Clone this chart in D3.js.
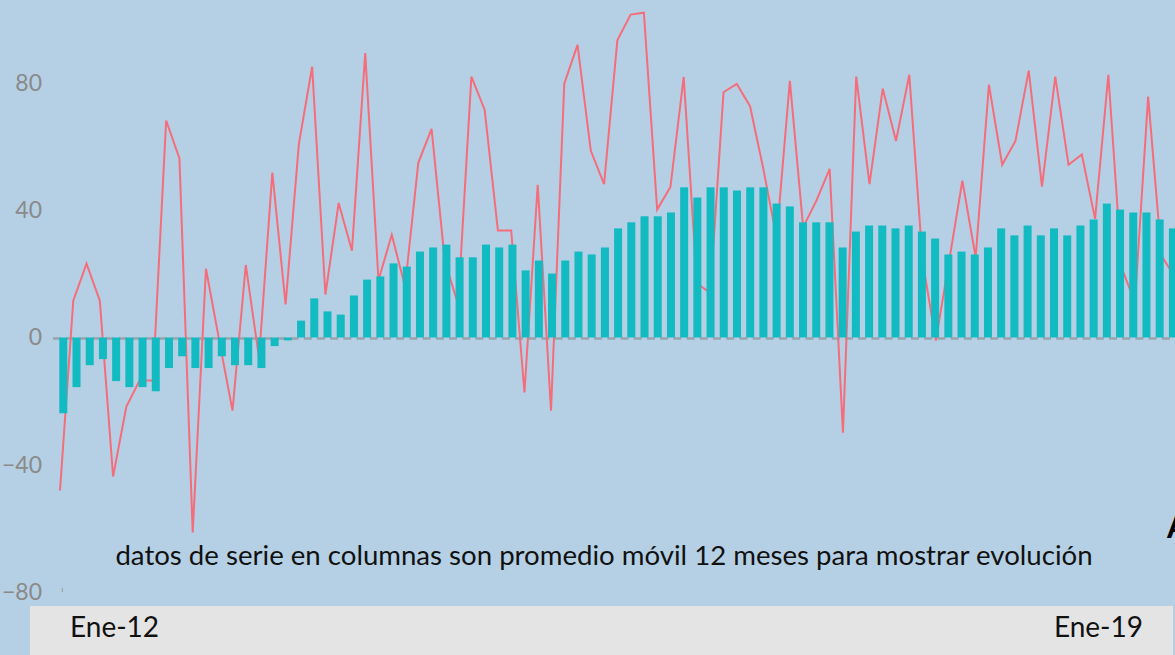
<!DOCTYPE html>
<html>
<head>
<meta charset="utf-8">
<script src="https://cdn.jsdelivr.net/npm/d3@7"></script>
<style>
  body { margin: 0; background: #b5d0e4; }
  svg { display: block; font-family: Lato, 'Open Sans', sans-serif; }
</style>
</head>
<body>
<svg width="1175" height="655"></svg>
<script>
const meses = ['Ene', 'Feb', 'Mar', 'Abr', 'May', 'Jun', 'Jul', 'Ago', 'Sep', 'Oct', 'Nov', 'Dic']
const anios = ['12', '13', '14', '15', '16', '17', '18', '19']

// Ene-12 .. Ene-19
const months = anios.flatMap(a => meses.map(m => m + '-' + a)).slice(0, 85)

// monthly series (line)
const serie = [
  -48.1, 11.6, 23.2, 11.6, -43.7, -21.7, -13.5, -13.5, 68.2, 56.3, -61.3, 21.6,
  -1, -23, 22.8, -6.5, 51.8, 10.4, 60.8, 85.1, 13.5, 42.3, 27.3, 89.4,
  18, 32.3, 16, 54.9, 65.6, 24, 10.4, 82, 71.6, 33.6, 33.6, -17.3,
  48, -23, 79.8, 92, 58.7, 48.2, 93.4, 101.5, 102.1, 40.2, 47.3, 81.9,
  17, 14, 77.1, 79.7, 72.7, 53, 31.4, 80.7, 34.7, 43, 53, -29.9,
  82, 48.2, 78.2, 61.8, 82.6, 24, -1, 24, 49.3, 25.2, 79.5, 54.3,
  61.8, 83.9, 47.4, 82, 54.3, 57.5, 37.3, 82.6, 22, 11, 75.7, 25.8,
  19
]

// 12 month moving average (columns)
const promedio = [
  -23.8, -15.6, -8.7, -6.8, -13.7, -15.6, -15.6, -16.9, -9.6, -5.9, -9.6, -9.6,
  -5.9, -8.7, -8.7, -9.6, -2.7, -0.9, 5.3, 12.3, 8.2, 7.2, 13.2, 18.2,
  19.2, 23.3, 22.3, 27.0, 28.3, 29.2, 25.2, 25.2, 29.2, 28.3, 29.2, 21.1,
  24.2, 20.1, 24.2, 27.0, 26.1, 28.3, 34.3, 36.2, 38.1, 38.1, 39.3, 47.2,
  44.0, 47.2, 47.2, 46.2, 47.2, 47.2, 42.1, 41.2, 36.2, 36.2, 36.2, 28.3,
  33.3, 35.2, 35.2, 34.3, 35.2, 33.3, 31.1, 26.1, 27.0, 26.1, 28.3, 34.3,
  32.1, 35.2, 32.1, 34.3, 32.1, 35.2, 37.1, 42.1, 40.2, 39.3, 39.3, 37.1,
  34.3
]

const yTicks = [-80, -40, 0, 40, 80]
const xLabels = ['Ene-12', 'Ene-19']
const nota = 'datos de serie en columnas son promedio móvil 12 meses para mostrar evolución'

const svg = d3.select('svg')

let x = d3.scaleBand().domain(months).range([56.7, 1179.5])
  .paddingInner(0.394).paddingOuter(0.197)
let xl = d3.scalePoint().domain(months).range([60, 1174.7])
let y = d3.scaleLinear().domain([-80, 80]).range([592, 83])

// bottom band
svg.append('rect')
  .attr('x', 30).attr('y', 606)
  .attr('width', 1143).attr('height', 49)
  .attr('fill', '#e4e4e4')

// y axis labels
const yAxis = svg.append('g')
  .attr('transform', 'translate(42,0)')
  .call(d3.axisLeft(y).tickValues(yTicks).tickSize(0).tickPadding(0))
yAxis.select('.domain').remove()
yAxis.selectAll('text')
  .attr('fill', '#8a8a8a')
  .style('font-family', 'Lato, sans-serif')
  .style('font-size', '23px')

// little tick mark at the bottom
svg.append('line')
  .attr('x1', 62.3).attr('x2', 62.3)
  .attr('y1', y(-80) - 4).attr('y2', y(-80))
  .attr('stroke', '#9a9a9a').attr('stroke-width', 1)

// zero line
svg.append('line')
  .attr('x1', 53).attr('x2', 1175)
  .attr('y1', y(0) + 1).attr('y2', y(0) + 1)
  .attr('stroke', '#9aa3ab')
  .attr('stroke-width', 2.5)
  .attr('stroke-dasharray', '8,5.2')

// line (drawn behind the columns)
const line = d3.line()
  .x((d, i) => xl(months[i]))
  .y(d => y(d))

svg.append('path')
  .datum(serie)
  .attr('d', line)
  .attr('fill', 'none')
  .attr('stroke', '#f56d7b')
  .attr('stroke-width', 2)
  .attr('stroke-linejoin', 'miter')

// columns
svg.selectAll('rect.bar')
  .data(promedio)
  .enter().append('rect')
  .attr('class', 'bar')
  .attr('x', (d, i) => x(months[i]))
  .attr('y', d => y(Math.max(0, d)))
  .attr('width', x.bandwidth())
  .attr('height', d => Math.abs(y(d) - y(0)))
  .attr('fill', '#12bac2')

// note
svg.append('text')
  .attr('x', 604).attr('y', 565)
  .attr('text-anchor', 'middle')
  .attr('fill', '#111')
  .style('font-size', '27.6px')
  .text(nota)

// x labels
svg.append('text')
  .attr('x', 70).attr('y', 637)
  .attr('fill', '#111')
  .style('font-size', '28px')
  .text(xLabels[0])

svg.append('text')
  .attr('x', 1143).attr('y', 637)
  .attr('text-anchor', 'end')
  .attr('fill', '#111')
  .style('font-size', '28px')
  .text(xLabels[1])

// cut off mark at the right edge (as in the original)
svg.append('text')
  .attr('x', 1167).attr('y', 538)
  .attr('fill', '#000')
  .style('font-size', '32px')
  .style('font-weight', 'bold')
  .text('A')
</script>
</body>
</html>
